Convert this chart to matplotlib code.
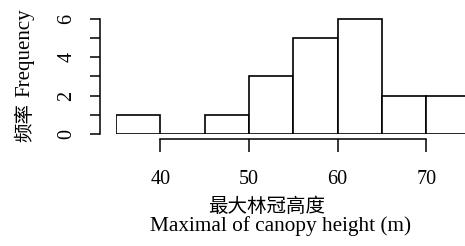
import matplotlib
matplotlib.use("Agg")
import matplotlib.pyplot as plt

# histogram of maximal canopy height
bin_left = [35, 40, 45, 50, 55, 60, 65, 70]
counts = [1, 0, 1, 3, 5, 6, 2, 2]
bin_width = 5
x_ticks = [40, 50, 60, 70]
y_ticks = [0, 1, 2, 3, 4, 5, 6]
y_tick_labels = ["0", "", "2", "", "4", "", "6"]

plt.rcParams['font.family'] = ['Liberation Serif', 'Noto Sans CJK SC']

W, H = 465, 246
fig = plt.figure(figsize=(W / 100, H / 100), dpi=100)
ax = fig.add_axes([116 / W, 112 / H, (W - 116) / W, (231 - 112) / H])

ax.bar(bin_left, counts, width=bin_width, align='edge',
       facecolor='white', edgecolor='black', linewidth=1.2)

ax.set_xlim(35, 35 + (W - 116) / 8.867)
ax.set_ylim(0, 6.2)

for s in ['top', 'right']:
    ax.spines[s].set_visible(False)
ax.spines['bottom'].set_bounds(40, 70)
ax.spines['bottom'].set_position(('outward', 3.6))
ax.spines['left'].set_bounds(0, 6)
ax.spines['left'].set_position(('outward', 11.5))
for s in ['bottom', 'left']:
    ax.spines[s].set_linewidth(1.1)

ax.set_xticks(x_ticks)
ax.set_xticklabels([str(v) for v in x_ticks])
ax.set_yticks(y_ticks)
ax.set_yticklabels(y_tick_labels, rotation=90, va='center')
ax.tick_params(axis='x', length=9, width=1.1, pad=13, labelsize=14.5)
ax.tick_params(axis='y', length=7, width=1.1, pad=10, labelsize=14.5)

fig.text(267 / W, 1 - 206 / H, "最大林冠高度", family=['Noto Sans CJK SC'],
         fontsize=14, ha='center', va='center')
fig.text(280 / W, 1 - 226 / H, "Maximal of canopy height (m)",
         fontsize=15.3, ha='center', va='center')
fig.text(25 / W, 1 - 122 / H, "频率", family=['Noto Sans CJK SC'],
         fontsize=14, ha='center', va='center', rotation=90)
fig.text(25 / W, 1 - 53 / H, "Frequency",
         fontsize=15, ha='center', va='center', rotation=90)

fig.savefig("out.png", dpi=100)
